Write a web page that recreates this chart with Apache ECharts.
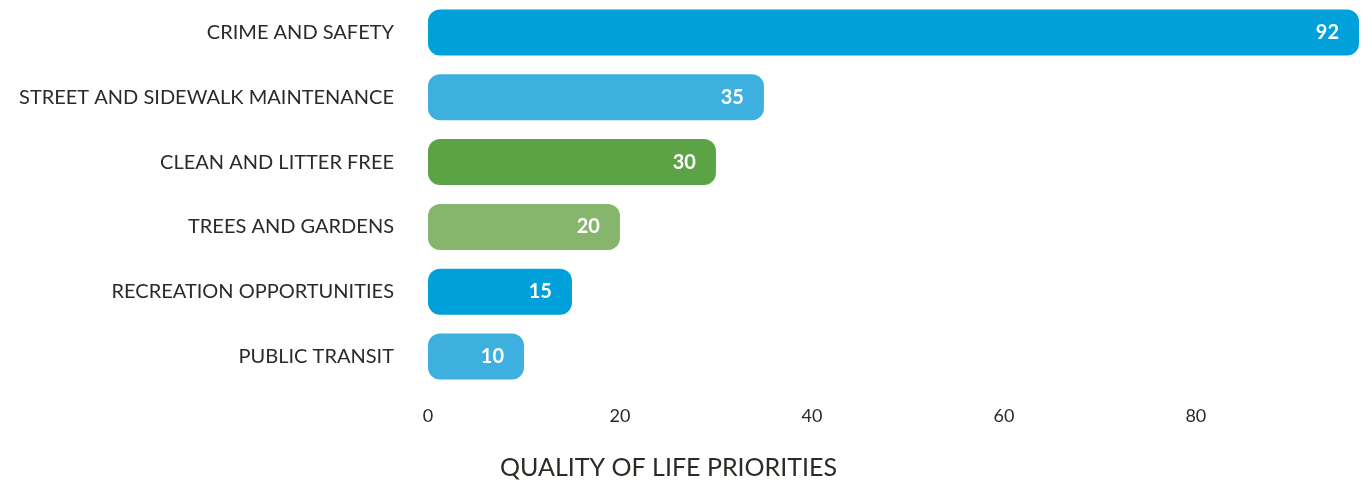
<!DOCTYPE html>
<html>
<head>
<meta charset="utf-8">
<style>
  html, body { margin: 0; padding: 0; background: #fff; }
  #chart { width: 1362px; height: 481px; }
</style>
<script src="https://cdn.jsdelivr.net/npm/echarts@6/dist/echarts.min.js"></script>
</head>
<body>
<div id="chart"></div>
<script>
// Categories, top to bottom
const categories = [
  'CRIME AND SAFETY',
  'STREET AND SIDEWALK MAINTENANCE',
  'CLEAN AND LITTER FREE',
  'TREES AND GARDENS',
  'RECREATION OPPORTUNITIES',
  'PUBLIC TRANSIT'
];
// Bar lengths as drawn on the axis (the top bar reaches the end of the axis range)
const barValues = [97, 35, 30, 20, 15, 10];
// Value labels printed on the bars
const valueLabels = ['92', '35', '30', '20', '15', '10'];
// Bar colours
const barColors = ['#00A0DA', '#3EB0E0', '#5CA346', '#86B66C', '#00A0DA', '#3EB0E0'];
// Axis ticks
const xTicks = [0, 20, 40, 60, 80];
const axisTitle = 'QUALITY OF LIFE PRIORITIES';

const font = 'Lato, "Open Sans", sans-serif';
const chart = echarts.init(document.getElementById('chart'), null, { renderer: 'canvas' });

chart.setOption({
  animation: false,
  backgroundColor: '#ffffff',
  title: {
    text: axisTitle,
    left: 495,
    top: 450,
    textStyle: { fontFamily: font, fontSize: 25, fontWeight: 'normal', color: '#2b2b26' }
  },
  grid: { left: 428, right: 3, top: -7, height: 396, containLabel: false },
  xAxis: {
    type: 'value',
    min: 0,
    max: 97,
    interval: 20,
    axisLine: { show: false },
    axisTick: { show: false },
    splitLine: { show: false },
    axisLabel: {
      showMaxLabel: false,
      margin: 18,
      fontFamily: font,
      fontSize: 18,
      color: '#2b2b26',
      formatter: v => xTicks.includes(v) ? String(v) : ''
    }
  },
  yAxis: {
    type: 'category',
    inverse: true,
    data: categories,
    axisLine: { show: false },
    axisTick: { show: false },
    splitLine: { show: false },
    axisLabel: {
      margin: 34,
      fontFamily: font,
      fontSize: 20,
      color: '#2b2b26'
    }
  },
  series: [{
    type: 'bar',
    barWidth: 46,
    data: barValues.map((v, i) => ({
      value: v,
      itemStyle: { color: barColors[i], borderRadius: 12 },
      label: { formatter: valueLabels[i] }
    })),
    label: {
      show: true,
      position: 'insideRight',
      distance: 20,
      fontFamily: font,
      fontSize: 20,
      fontWeight: 'bold',
      color: '#ffffff'
    }
  }]
});
</script>
</body>
</html>
